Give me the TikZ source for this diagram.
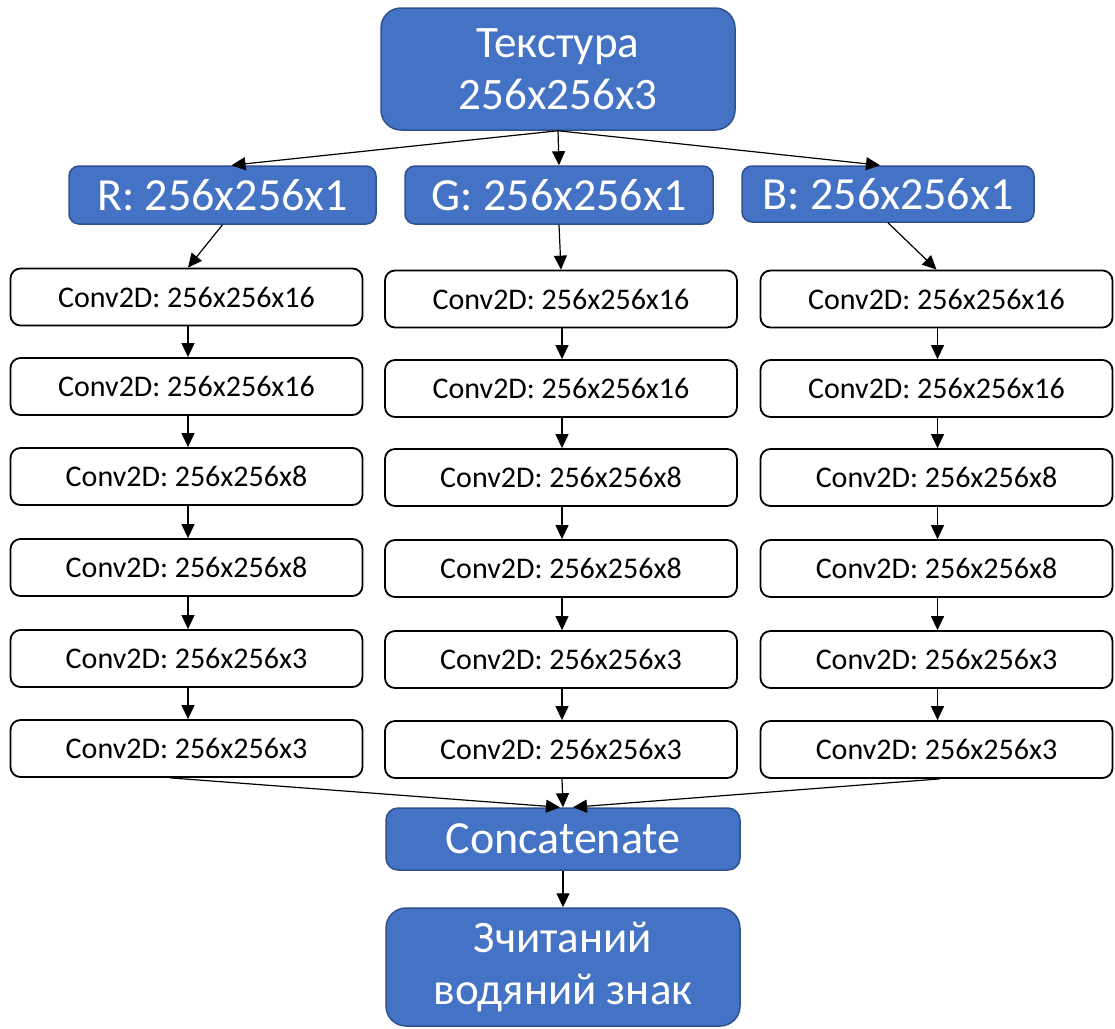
\documentclass[tikz,border=0pt]{standalone}
\usepackage{fontspec}
\setmainfont{Carlito}
\usetikzlibrary{arrows.meta,positioning}
\definecolor{blockblue}{HTML}{4472C4}
\definecolor{blockedge}{HTML}{2F528F}
\begin{document}
\begin{tikzpicture}[x=1pt,y=-1pt,
  bigblue/.style={draw=blockedge,line width=1.5pt,fill=blockblue,rounded corners=20pt,
    text=white,font=\fontsize{45}{52}\selectfont,align=center,inner sep=0pt},
  chanbox/.style={draw=blockedge,line width=1.5pt,fill=blockblue,rounded corners=10pt,
    text=white,font=\fontsize{46}{52}\selectfont,inner sep=0pt},
  convbox/.style={draw=black,line width=1.8pt,fill=white,rounded corners=10pt,
    text=black,font=\fontsize{30}{34}\selectfont,inner sep=0pt,
    minimum width=352pt,minimum height=57pt},
  flow/.style={draw=black,line width=1.2pt,-{Triangle[length=14pt,width=13pt]}}]
\useasboundingbox (0,0) rectangle (1115,1028);

% input and per-channel splits
\node[bigblue,minimum width=354pt,minimum height=122pt] (tex) at (558,69) {Текстура\\256x256x3};
\node[chanbox,minimum width=307pt,minimum height=58pt] (rch) at (222.5,195) {R: 256x256x1};
\node[chanbox,minimum width=308pt,minimum height=58pt] (gch) at (559,195) {G: 256x256x1};
\node[chanbox,minimum width=292pt,minimum height=56pt] (bch) at (888,194) {B: 256x256x1};

% convolution stacks
\foreach \i/\yl/\ym/\lbl in {1/297/299/256x256x16,2/386.5/388.5/256x256x16,3/476.5/477.5/256x256x8,
                          4/567.5/568.5/256x256x8,5/658.5/659.5/256x256x3,6/748.5/749.5/256x256x3}{
  \node[convbox] (l\i) at (186.5,\yl) {Conv2D: \lbl};
  \node[convbox] (m\i) at (561,\ym) {Conv2D: \lbl};
  \node[convbox] (r\i) at (936.5,\ym) {Conv2D: \lbl};
}

% merge and output
\node[chanbox,rounded corners=12pt,minimum width=354pt,minimum height=62pt] (cat) at (563,839) {Concatenate};
\node[bigblue,minimum width=354pt,minimum height=118pt] (out) at (563,967) {Зчитаний\\водяний знак};

% connectors
\draw[flow] (tex.south) -- ([xshift=9pt]rch.north);
\draw[flow] (tex.south) -- (gch.north);
\draw[flow] (tex.south) -- ([xshift=-8pt]bch.north);
\draw[flow] (rch.south) -- ([xshift=1.5pt]l1.north);
\draw[flow] (gch.south) -- (m1.north);
\draw[flow] (bch.south) -- (r1.north);
\foreach \a/\b in {1/2,2/3,3/4,4/5,5/6}{
  \draw[flow] ([xshift=1.5pt]l\a.south) -- ([xshift=1.5pt]l\b.north);
  \draw[flow] ([xshift=1pt]m\a.south) -- ([xshift=1pt]m\b.north);
  \draw[flow] ([xshift=1pt]r\a.south) -- ([xshift=1pt]r\b.north);
}
\draw[flow] ([xshift=-16pt]l6.south) -- ([xshift=-3pt]cat.north);
\draw[flow] ([xshift=1pt]m6.south) -- (cat.north);
\draw[flow] ([xshift=3pt]r6.south) -- ([xshift=10pt]cat.north);
\draw[flow] (cat.south) -- (out.north);
\end{tikzpicture}
\end{document}
